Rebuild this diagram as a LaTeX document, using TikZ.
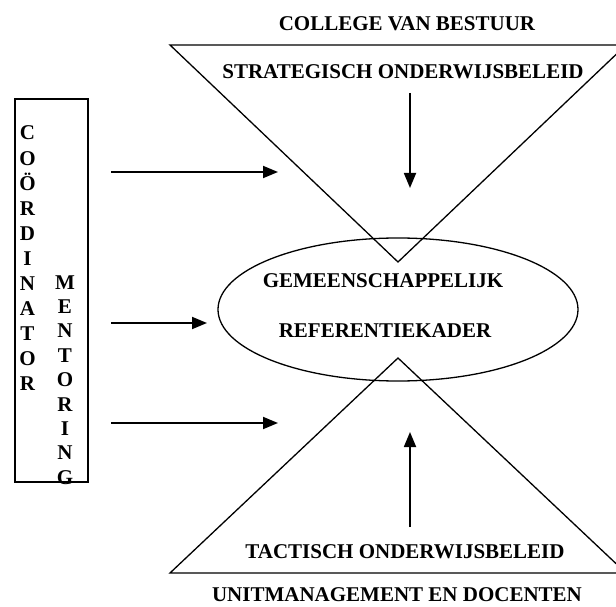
\documentclass[tikz,border=0pt]{standalone}
\usepackage{fontspec}
\setmainfont{Liberation Serif}
\usetikzlibrary{shapes.geometric, arrows.meta, positioning}
\tikzset{
    level/.style = {
        line width=1.3pt
    },
    kader/.style = {
        draw,
        ellipse,
        line width=1.3pt,
        minimum width=360pt,
        minimum height=143pt,
        inner sep=0pt
    },
    tekst/.style = {
        font=\bfseries\fontsize{21}{25}\selectfont,
        inner sep=0pt,
        text height=14pt,
        text depth=0pt
    },
    flow/.style = {
        line width=1.8pt,
        -{Triangle[length=15pt, width=12pt]}
    }
}

\begin{document}
\begin{tikzpicture}[x=1pt, y=-1pt]
    \useasboundingbox (0,0) rectangle (616,607);
    \clip (0,0) rectangle (616,607);

    \coordinate (bestuur-l) at (170,45);
    \coordinate (bestuur-r) at (626,45);
    \coordinate (bestuur-p) at (398,262);
    \draw[level] (bestuur-l) -- (bestuur-r) -- (bestuur-p) -- cycle;

    \coordinate (unit-l) at (170,573);
    \coordinate (unit-r) at (626,573);
    \coordinate (unit-p) at (398,358);
    \draw[level] (unit-l) -- (unit-r) -- (unit-p) -- cycle;

    \node[kader] (kader) at (398,309.5) {};

    \node[tekst] (college) at (407,24) {COLLEGE VAN BESTUUR};
    \node[tekst] (strategisch) at (403,72) {STRATEGISCH ONDERWIJSBELEID};
    \node[tekst] (gemeen) at (383,280) {GEMEENSCHAPPELIJK};
    \node[tekst] (referentie) at (385,330) {REFERENTIEKADER};
    \node[tekst] (tactisch) at (405,551) {TACTISCH ONDERWIJSBELEID};
    \node[tekst] (unit) at (397,594) {UNITMANAGEMENT EN DOCENTEN};

    \coordinate (neer-a) at (410,93);
    \coordinate (neer-b) at (410,188);
    \draw[flow] (neer-a) -- (neer-b);
    \coordinate (op-a) at (410,527);
    \coordinate (op-b) at (410,432);
    \draw[flow] (op-a) -- (op-b);

    \node[draw, line width=1.3pt, minimum width=73pt, minimum height=383pt, inner sep=0pt] (staf) at (51.5,290.5) {};
    \foreach \l [count=\i] in {C,O,Ö,R,D,I,N,A,T,O,R}{
        \node[tekst] (coord\i) at (27.5,{133+25*(\i-1)}) {\l};
    }
    \foreach \l [count=\i] in {M,E,N,T,O,R,I,N,G}{
        \node[tekst] (ment\i) at (65,{282+24.4*(\i-1)}) {\l};
    }

    \foreach \y/\x [count=\i] in {172/278, 323/207, 423/278}{
        \coordinate (in\i) at (111,\y);
        \coordinate (uit\i) at (\x,\y);
        \draw[flow] (in\i) -- (uit\i);
    }
\end{tikzpicture}
\end{document}
